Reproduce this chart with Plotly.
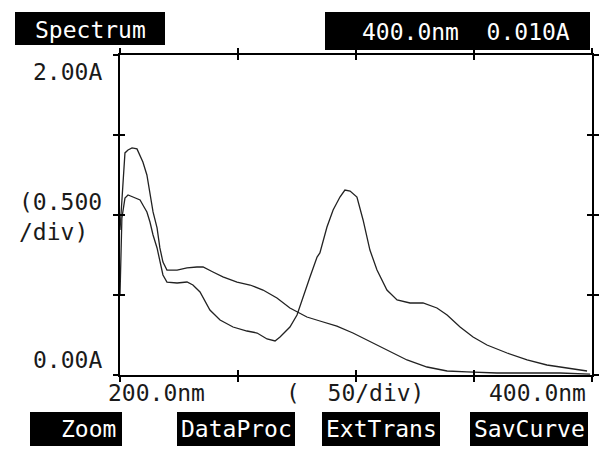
import plotly.graph_objects as go

# ---- data (wavelength nm, absorbance A) ----
curve1_nm = [200.0, 200.8, 201.3, 202.1, 203.4, 205.1, 207.2, 208.5, 209.7, 211.4, 212.7,
             214.0, 215.7, 216.9, 218.2, 219.9, 224.2, 228.4, 232.6, 235.2, 239.4, 243.6,
             249.6, 255.1, 260.6, 266.5, 272.0, 275.0, 279.2, 284.7, 291.9, 298.7, 304.7,
             313.1, 321.6, 330.1, 338.6, 347.0, 359.7, 373.7, 386.4, 399.2]
curve1_abs = [0.906, 1.094, 1.25, 1.388, 1.406, 1.419, 1.413, 1.375, 1.331, 1.25, 1.144,
              1.019, 0.919, 0.794, 0.706, 0.656, 0.656, 0.669, 0.675, 0.675, 0.644, 0.613,
              0.581, 0.5625, 0.531, 0.481, 0.419, 0.394, 0.3625, 0.3375, 0.306, 0.2625, 0.219,
              0.156, 0.094, 0.05, 0.025, 0.019, 0.0125, 0.0125, 0.0125, 0.006]

curve2_nm = [200.0, 200.8, 202.1, 203.4, 205.5, 208.5, 209.7, 211.4, 212.7, 214.0, 215.7,
             216.9, 218.2, 219.9, 224.2, 228.4, 230.9, 233.9, 238.1, 242.4, 247.9, 253.8,
             258.1, 262.3, 265.7, 267.8, 272.0, 275.0, 277.5, 280.5, 283.5, 284.7, 287.7,
             290.3, 293.2, 295.3, 297.5, 300.4, 303.0, 305.9, 308.9, 313.1, 317.4, 322.9,
             328.4, 334.3, 338.6, 344.1, 349.6, 355.5, 364.0, 372.5, 380.9, 389.4, 397.9]
curve2_abs = [0.5, 0.981, 1.106, 1.125, 1.1125, 1.094, 1.0625, 1.019, 0.956, 0.875, 0.794,
              0.706, 0.625, 0.581, 0.575, 0.581, 0.5625, 0.519, 0.406, 0.344, 0.3, 0.275,
              0.2625, 0.225, 0.2125, 0.2375, 0.3, 0.375, 0.4875, 0.6125, 0.7375, 0.7625, 0.925,
              1.031, 1.1125, 1.156, 1.15, 1.1125, 0.969, 0.781, 0.656, 0.531, 0.469, 0.45,
              0.45, 0.419, 0.375, 0.3, 0.2375, 0.1875, 0.1375, 0.094, 0.0625, 0.044, 0.025]

x_range = [200, 400]
y_range = [0, 2]
x_step = 50
y_step = 0.5

header_left = "Spectrum"
header_right = "400.0nm  0.010A"
y_labels = ["2.00A", "(0.500<br>/div)", "0.00A"]
x_labels = ["200.0nm", "(  50/div)", "400.0nm"]
buttons = ["Zoom", "DataProc", "ExtTrans", "SavCurve"]

FONT = "DejaVu Sans Mono"
W, H = 600, 451
L, R, T, B = 120, 8, 55, 76
PW, PH = W - L - R, H - T - B

fig = go.Figure()
fig.add_trace(go.Scatter(x=curve1_nm, y=curve1_abs, mode="lines",
                         line=dict(color="#222", width=1.3), xaxis="x", yaxis="y"))
fig.add_trace(go.Scatter(x=curve2_nm, y=curve2_abs, mode="lines",
                         line=dict(color="#222", width=1.3), xaxis="x2", yaxis="y2"))

ax_common = dict(showgrid=False, zeroline=False, showticklabels=False,
                 showline=True, linecolor="black", linewidth=1.5, automargin=False,
                 tickcolor="black", tickwidth=1.5, ticklen=5)
fig.update_layout(
    width=W, height=H, showlegend=False,
    paper_bgcolor="white", plot_bgcolor="white",
    margin=dict(l=L, r=R, t=T, b=B, autoexpand=False),
    xaxis=dict(range=x_range, dtick=x_step, tick0=x_range[0], ticks="inside",
               mirror="ticks", **ax_common),
    yaxis=dict(range=y_range, dtick=y_step, tick0=0, ticks="inside",
               mirror="ticks", **ax_common),
    xaxis2=dict(range=x_range, dtick=x_step, tick0=x_range[0], ticks="outside",
                mirror="ticks", overlaying="x", side="bottom", **ax_common),
    yaxis2=dict(range=y_range, dtick=y_step, tick0=0, ticks="outside",
                mirror="ticks", overlaying="y", side="left", **ax_common),
)

def px_x(p):
    return (p - L) / PW

def px_y(p):
    return 1 - (p - T) / PH

shapes = []
anns = []

def box(x0, x1, y0, y1):
    shapes.append(dict(type="rect", xref="paper", yref="paper",
                       x0=px_x(x0), x1=px_x(x1), y0=px_y(y1), y1=px_y(y0),
                       fillcolor="black", line=dict(width=0), layer="below"))

def text(s, cx, cy, color="#1a1a1a", size=23, xanchor="center", align="center"):
    anns.append(dict(text=s, x=px_x(cx), y=px_y(cy), xref="paper", yref="paper",
                     xanchor=xanchor, yanchor="middle", showarrow=False, align=align,
                     font=dict(family=FONT, size=size, color=color)))

# header
box(15, 165, 12, 45)
text(header_left, 90, 30, color="white")
box(325, 590, 12, 50)
text(header_right, 466, 32, color="white")

# y labels
text(y_labels[0], 104, 72, xanchor="right")
text(y_labels[1], 104, 217, xanchor="right", align="left")
text(y_labels[2], 104, 360, xanchor="right")

# x labels
text(x_labels[0], 156, 393)
text(x_labels[1], 355, 393)
text(x_labels[2], 537, 393)

# buttons
btn_pos = [(30, 122, 88), (177, 295, 236), (322, 440, 381), (470, 588, 529)]
for label, (x0, x1, cx) in zip(buttons, btn_pos):
    box(x0, x1, 412, 446)
    text(label, cx, 429, color="white")

fig.update_layout(shapes=shapes, annotations=anns)
fig.write_html("out.html", config={"displayModeBar": False},
               post_script="document.body.style.margin='0px';")
